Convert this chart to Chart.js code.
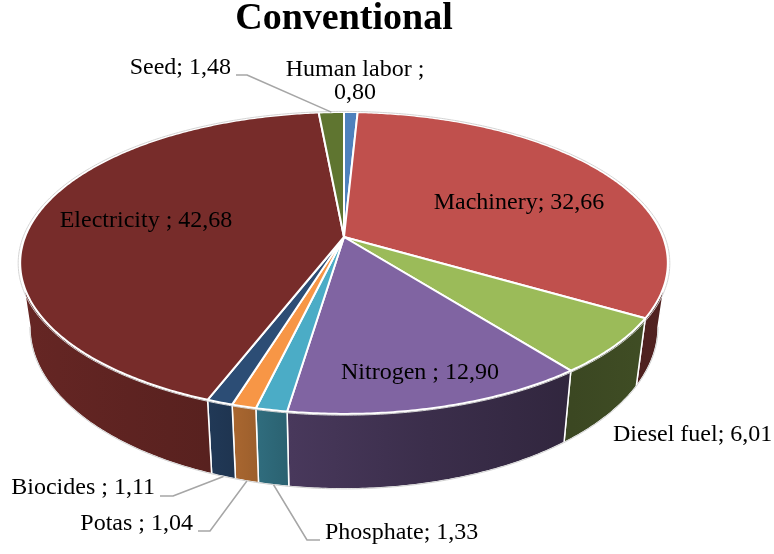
<!DOCTYPE html>
<html>
<head>
<meta charset="utf-8">
<script src="https://cdn.jsdelivr.net/npm/chart.js@4.4.0/dist/chart.umd.min.js"></script>
<style>
  html, body { margin: 0; padding: 0; background: #fff; }
  #wrap { width: 774px; height: 554px; }
</style>
</head>
<body>
<div id="wrap"><canvas id="energy-chart"></canvas></div>
<script>
// energy input shares, conventional system (%)
const categories = ['Human labor ', 'Machinery', 'Diesel fuel', 'Nitrogen ', 'Phosphate', 'Potas ', 'Biocides ', 'Electricity ', 'Seed'];
const shares = [0.80, 32.66, 6.01, 12.90, 1.33, 1.04, 1.11, 42.68, 1.48];

const sliceColors = ['#4F81BD', '#C0504D', '#9BBB59', '#8064A2', '#4BACC6', '#F79646', '#2C4D75', '#772C2A', '#5F7530'];

// where each data label sits, plus the elbow of its leader line (if any)
const labelSpots = [
  { x: 355, y: 70, align: 'center', wrap: true },
  { x: 519, y: 203, align: 'center' },
  { x: 613, y: 435, align: 'left' },
  { x: 420, y: 373, align: 'center' },
  { x: 325, y: 533, align: 'left', leader: [[320, 540], [307, 540]], edge: 'bottom' },
  { x: 193, y: 524, align: 'right', leader: [[198, 531], [210, 531]], edge: 'bottom' },
  { x: 155, y: 488, align: 'right', leader: [[160, 496], [173, 496]], edge: 'bottom' },
  { x: 146, y: 221, align: 'center' },
  { x: 231, y: 68, align: 'right', leader: [[236, 75], [247, 75]], edge: 'top' },
];

// side wall lighting, left to right
const wallLight = [[0, 0.86], [0.29, 0.74], [0.42, 0.56], [0.63, 0.46], [0.85, 0.38], [1, 0.42]];

function shade(hex, f) {
  const n = parseInt(hex.slice(1), 16);
  const r = Math.round(((n >> 16) & 255) * f);
  const g = Math.round(((n >> 8) & 255) * f);
  const b = Math.round((n & 255) * f);
  return `rgb(${r},${g},${b})`;
}

const fmt = (v) => v.toFixed(2).replace('.', ',');

// draws the pie as a tilted disc, using the arc angles chart.js computed
const pie3d = {
  id: 'pie3d',
  beforeDatasetsDraw(chart) {
    const ctx = chart.ctx;
    const arcs = chart.getDatasetMeta(0).data;
    if (!arcs.length) return false;

    const { x: cx, y: cy, outerRadius: R } = arcs[0];
    const rx = R * 1.603, ry = R * 0.736, depth = R * 0.312, k = -0.172, shrink = 0.97;

    const proj = (a, r = 1) => {
      const u = Math.cos(a) * r, v = Math.sin(a) * r, w = 1 + k * v;
      return { x: cx + rx * u / w, y: cy + ry * v / w, d: depth / w };
    };
    const below = (p) => ({ x: cx + (p.x - cx) * shrink, y: p.y + p.d });
    const sweep = (s, e, r = 1) => {
      const pts = [];
      const n = Math.max(2, Math.ceil((e - s) / 0.01));
      for (let i = 0; i <= n; i++) pts.push(proj(s + (e - s) * i / n, r));
      return pts;
    };

    const lo = Math.asin(-k), hi = Math.PI - lo;

    ctx.save();
    ctx.lineJoin = 'round';

    // outer walls (front half only)
    const gx0 = cx - rx * 1.02, gx1 = cx + rx * 1.02;
    arcs.forEach((arc, i) => {
      const s = Math.max(arc.startAngle, lo), e = Math.min(arc.endAngle, hi);
      if (e <= s) return;
      const top = sweep(s, e);
      ctx.beginPath();
      top.forEach((p, j) => j ? ctx.lineTo(p.x, p.y) : ctx.moveTo(p.x, p.y));
      for (let j = top.length - 1; j >= 0; j--) {
        const b = below(top[j]);
        ctx.lineTo(b.x, b.y);
      }
      ctx.closePath();
      const grad = ctx.createLinearGradient(gx0, 0, gx1, 0);
      wallLight.forEach(([t, f]) => grad.addColorStop(t, shade(sliceColors[i], f)));
      ctx.fillStyle = grad;
      ctx.fill();
      ctx.strokeStyle = '#fff';
      ctx.lineWidth = 1.5;
      ctx.stroke();
    });

    // bottom rim
    const rim = sweep(lo, hi).map(below);
    ctx.beginPath();
    rim.forEach((p, j) => j ? ctx.lineTo(p.x, p.y) : ctx.moveTo(p.x, p.y));
    ctx.strokeStyle = '#cfcfcf';
    ctx.lineWidth = 1;
    ctx.stroke();

    // top faces
    arcs.forEach((arc, i) => {
      const c = proj(0, 0);
      const pts = sweep(arc.startAngle, arc.endAngle);
      ctx.beginPath();
      ctx.moveTo(c.x, c.y);
      pts.forEach(p => ctx.lineTo(p.x, p.y));
      ctx.closePath();
      ctx.fillStyle = sliceColors[i];
      ctx.fill();
      ctx.strokeStyle = '#fff';
      ctx.lineWidth = 2;
      ctx.stroke();
    });

    // faint halo round the top edge
    const edge = sweep(-Math.PI / 2, Math.PI * 1.5, 1.006);
    ctx.beginPath();
    edge.forEach((p, j) => j ? ctx.lineTo(p.x, p.y) : ctx.moveTo(p.x, p.y));
    ctx.closePath();
    ctx.strokeStyle = '#d4d4d4';
    ctx.lineWidth = 1;
    ctx.stroke();

    // leader lines
    ctx.strokeStyle = '#a6a6a6';
    ctx.lineWidth = 1.5;
    arcs.forEach((arc, i) => {
      const spot = labelSpots[i];
      if (!spot.leader) return;
      const mid = (arc.startAngle + arc.endAngle) / 2;
      const p = proj(mid);
      const end = spot.edge === 'bottom' ? below(p) : p;
      ctx.beginPath();
      ctx.moveTo(spot.leader[0][0], spot.leader[0][1]);
      ctx.lineTo(spot.leader[1][0], spot.leader[1][1]);
      ctx.lineTo(end.x, end.y);
      ctx.stroke();
    });

    // data labels
    ctx.font = '24px "Liberation Serif", "Times New Roman", serif';
    ctx.fillStyle = '#000';
    ctx.textBaseline = 'middle';
    categories.forEach((cat, i) => {
      const spot = labelSpots[i];
      const text = cat + '; ' + fmt(shares[i]);
      ctx.textAlign = spot.align;
      const lines = spot.wrap ? text.split(/(?<=;) /) : [text];
      lines.forEach((line, j) => ctx.fillText(line, spot.x, spot.y + j * 23));
    });

    ctx.restore();
    return false;
  }
};

new Chart(document.getElementById('energy-chart'), {
  type: 'pie',
  data: {
    labels: categories,
    datasets: [{
      data: shares,
      backgroundColor: sliceColors,
      borderWidth: 0,
    }]
  },
  options: {
    responsive: true,
    maintainAspectRatio: false,
    animation: false,
    events: [],
    layout: {
      padding: { left: 0, right: 86, top: 0, bottom: 118 }
    },
    plugins: {
      legend: { display: false },
      tooltip: { enabled: false },
      title: {
        display: true,
        text: 'Conventional',
        color: '#000',
        padding: 0,
        font: { family: '"Liberation Serif", "Times New Roman", serif', size: 38, weight: 'bold', lineHeight: 1 }
      }
    }
  },
  plugins: [pie3d]
});
</script>
</body>
</html>
